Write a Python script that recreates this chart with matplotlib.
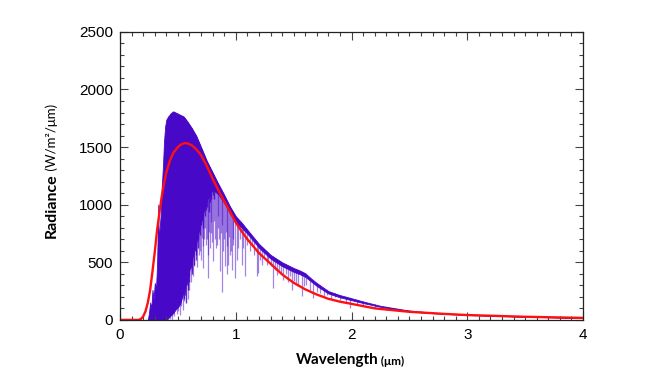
import numpy as np
import matplotlib
matplotlib.use('Agg')
import matplotlib.pyplot as plt
from matplotlib.ticker import MultipleLocator

# blackbody curve (red)
bb_wave = [0, 0.16, 0.18, 0.20, 0.22, 0.24, 0.26, 0.28, 0.30, 0.32, 0.34, 0.36,
           0.38, 0.40, 0.43, 0.46, 0.50, 0.53, 0.56, 0.59, 0.62, 0.66, 0.70, 0.75,
           0.80, 0.85, 0.90, 0.95, 1.00, 1.05, 1.10, 1.15, 1.20, 1.30, 1.40, 1.50,
           1.60, 1.70, 1.80, 1.90, 2.00, 2.20, 2.50, 2.80, 3.00, 3.50, 4.00]
bb_rad = [0, 0, 8, 30, 75, 150, 260, 420, 590, 780, 930, 1070,
          1185, 1280, 1380, 1450, 1500, 1525, 1535, 1530, 1515, 1480, 1430, 1335,
          1225, 1125, 1030, 940, 845, 770, 700, 640, 580, 488, 395, 322,
          265, 220, 183, 158, 139, 100, 70, 52, 42, 27, 17]

# measured spectrum (purple): upper envelope and lower edge of the dense band
sp_wave = [0.22, 0.24, 0.25, 0.26, 0.27, 0.28, 0.29, 0.30, 0.31, 0.32, 0.33, 0.335,
           0.34, 0.35, 0.36, 0.37, 0.38, 0.39, 0.40, 0.42, 0.44, 0.46, 0.48, 0.50,
           0.52, 0.55, 0.58, 0.62, 0.66, 0.70, 0.75, 0.80, 0.85, 0.90, 0.95, 1.00,
           1.05, 1.10, 1.20, 1.30, 1.40, 1.50, 1.55, 1.60, 1.65, 1.70, 1.80, 1.90,
           2.00, 2.10, 2.25, 2.40, 2.50, 2.70, 3.00, 3.20, 3.50, 4.00]
sp_top = [0, 0, 60, 150, 100, 260, 180, 320, 260, 480, 1000, 620,
          760, 900, 1150, 1320, 1550, 1680, 1740, 1770, 1795, 1810, 1800, 1790,
          1780, 1765, 1725, 1665, 1595, 1500, 1380, 1280, 1180, 1085, 985, 900,
          845, 783, 660, 565, 500, 450, 430, 405, 360, 320, 250, 215,
          188, 160, 122, 97, 81, 62, 45, 38, 28, 18]
sp_low = [0, 0, 0, 0, 0, 0, 0, 0, 0, 0, 0, 0,
          0, 0, 0, 0, 0, 0, 0, 20, 40, 60, 90, 110,
          140, 250, 350, 520, 680, 860, 1040, 1130, 1090, 1015, 925, 845,
          800, 748, 627, 532, 467, 417, 398, 374, 334, 294, 229, 196,
          171, 146, 113, 90, 75, 58, 42, 36, 27, 17]

# strong absorption lines that break up the lower edge of the band
deep_wave = [0.552, 0.56, 0.568, 0.575, 0.585, 0.595, 0.60, 0.61, 0.618, 0.625,
             0.635, 0.645, 0.652, 0.66, 0.67, 0.675, 0.685, 0.695, 0.70, 0.71,
             0.72, 0.73, 0.74, 0.755, 0.765, 0.775, 0.79, 0.80, 0.815]
deep_rad = [180, 220, 150, 300, 260, 380, 330, 450, 400, 520,
            480, 600, 560, 650, 700, 620, 780, 740, 820, 860,
            800, 900, 950, 980, 940, 1020, 1050, 1080, 1050]

# fainter absorption lines: wavelength and depth reached
dip_wave = [0.41, 0.43, 0.45, 0.47, 0.49, 0.50, 0.515, 0.525, 0.533, 0.545, 0.555,
            0.565, 0.576, 0.583, 0.59, 0.597, 0.605, 0.612, 0.62, 0.627, 0.633, 0.64,
            0.648, 0.655, 0.66, 0.668, 0.677, 0.684, 0.69, 0.698, 0.706, 0.713, 0.72,
            0.728, 0.735, 0.742, 0.75, 0.757, 0.763, 0.77, 0.778, 0.785, 0.79, 0.798,
            0.806, 0.813, 0.82, 0.828, 0.835, 0.842, 0.85, 0.857, 0.864, 0.871, 0.878,
            0.885, 0.89, 0.898, 0.905, 0.912, 0.92, 0.928, 0.936, 0.943, 0.95, 0.958,
            0.965, 0.972, 0.98, 0.993, 1.008, 1.02, 1.035, 1.05, 1.065, 1.08, 1.10,
            1.123, 1.14, 1.16, 1.18, 1.195, 1.21, 1.224, 1.24, 1.267, 1.28, 1.30,
            1.325, 1.34, 1.354, 1.37, 1.39, 1.411, 1.43, 1.45, 1.47, 1.483, 1.50,
            1.52, 1.541, 1.57, 1.59, 1.61, 1.64, 1.67, 1.70, 1.73, 1.76, 1.786, 1.82,
            1.86, 1.90, 1.95, 1.99, 2.05, 2.10, 2.20, 2.30, 2.40, 2.50, 2.60, 2.80,
            3.00]
dip_rad = [0, 10, 0, 30, 50, 80, 40, 120, 200, 90, 160,
           250, 362, 180, 300, 260, 493, 330, 420, 380, 565, 470,
           623, 520, 520, 460, 681, 560, 600, 520, 710, 640, 450,
           700, 800, 650, 700, 560, 362, 760, 623, 850, 750, 680,
           507, 860, 700, 620, 650, 900, 800, 700, 420, 750, 246,
           820, 600, 700, 470, 760, 400, 640, 478, 720, 560, 600,
           435, 700, 650, 362, 522, 623, 700, 478, 620, 377, 650,
           594, 650, 560, 377, 406, 520, 478, 540, 478, 500, 470,
           275, 430, 391, 430, 400, 348, 400, 330, 380, 261, 340,
           320, 290, 203, 290, 300, 261, 188, 240, 230, 200, 217, 180,
           200, 170, 150, 101, 130, 120, 100, 90, 75, 65, 60, 50,
           38]

purple = '#4808C8'

fig = plt.figure(figsize=(6.67, 3.75), dpi=100)
ax = fig.add_axes([0.18, 0.147, 0.694, 0.768])

# envelope region, used to clip the absorption lines
env = ax.fill_between(sp_wave, 0, sp_top, color='none', lw=0)
clip = env.get_paths()[0]
ax.fill_between(sp_wave, sp_low, sp_top, color=purple, lw=0.6, edgecolor=purple)
deep = ax.vlines(deep_wave, deep_rad, 2500, color=purple, lw=1.0, alpha=0.85)
deep.set_clip_path(clip, ax.transData)
dips = ax.vlines(dip_wave, dip_rad, 2500, color=purple, lw=0.9, alpha=0.5)
dips.set_clip_path(clip, ax.transData)

ax.plot(bb_wave, bb_rad, color='#FF1010', lw=1.7)

ax.set_xlim(0, 4)
ax.set_ylim(0, 2500)
ax.xaxis.set_major_locator(MultipleLocator(1))
ax.xaxis.set_minor_locator(MultipleLocator(0.1))
ax.yaxis.set_major_locator(MultipleLocator(500))
ax.yaxis.set_minor_locator(MultipleLocator(100))
ax.tick_params(which='both', direction='in', top=True, right=True,
               color='#444444', labelsize=11, width=0.8)
ax.tick_params(which='major', length=6)
ax.tick_params(which='minor', length=3)
ax.tick_params(axis='y', pad=5)
ax.tick_params(axis='x', pad=6)
for lab in ax.get_xticklabels() + ax.get_yticklabels():
    lab.set_family('Liberation Sans')
for sp in ax.spines.values():
    sp.set_linewidth(0.9)
    sp.set_color('#222222')

# axis titles: bold word plus smaller unit
xt = fig.text(0.567, 0.03, 'Wavelength', fontsize=11, fontweight='bold',
              family='Lato', ha='right', va='baseline')
ax.annotate(' (\u03bcm)', xy=(1, 0), xycoords=xt, fontsize=8.5,
            fontweight='bold', family='Lato', va='bottom', ha='left')
yt = fig.text(0.078, 0.365, 'Radiance', fontsize=11.5, fontweight='bold',
              family='Lato', rotation=90, ha='center', va='bottom')
ax.annotate(' (W/m\u00b2/\u03bcm)', xy=(0, 1), xycoords=yt, fontsize=9.5,
            family='Lato', rotation=90, ha='left', va='bottom')

fig.savefig('out.png', dpi=100)
